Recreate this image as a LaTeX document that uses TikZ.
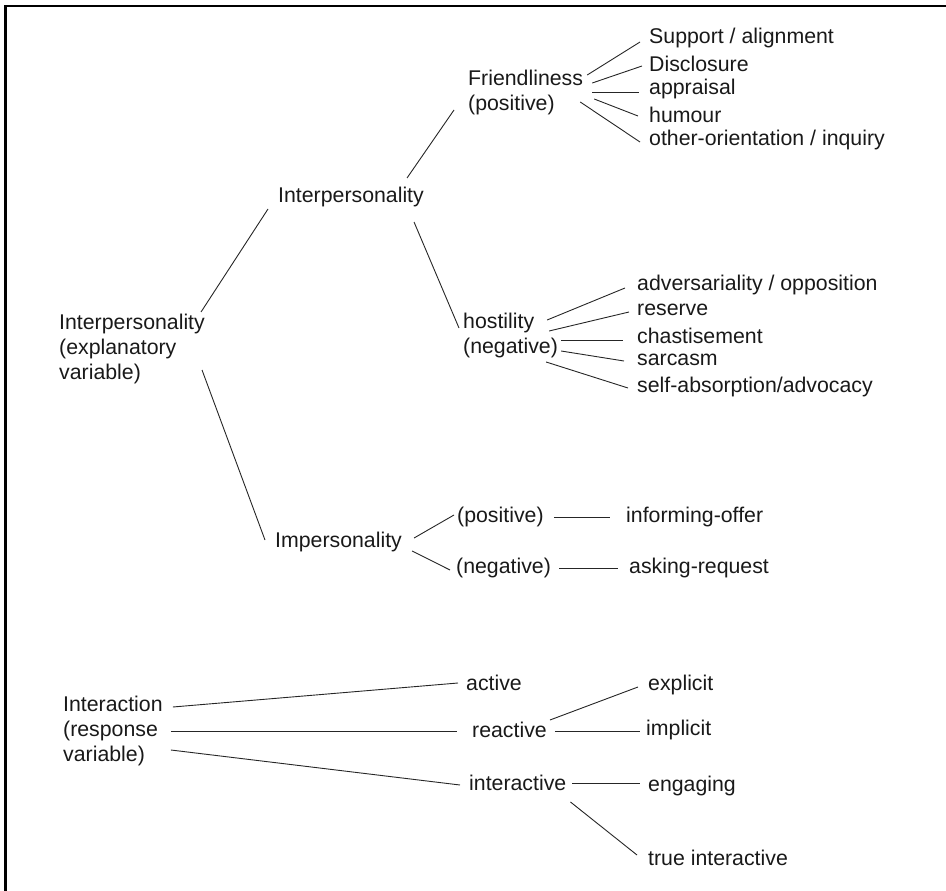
\documentclass[tikz,border=0pt]{standalone}
\usepackage{fontspec}
\setmainfont{Liberation Sans}
\begin{document}
\begin{tikzpicture}[x=1pt,y=-1pt,
  lbl/.style={inner sep=0pt, anchor=west, font=\fontsize{21.3}{25}\selectfont, text=black!90},
  blk/.style={lbl, align=left},
  conn/.style={line width=0.9pt, draw=black!85}]
\useasboundingbox (0,0) rectangle (946,891);
\draw[line width=2.5pt, line join=miter] (5.3,891) -- (5.3,6.2) -- (946,6.2);

% nodes
\node[blk] (root) at (59,349) {Interpersonality\\(explanatory\\variable)};
\node[lbl] (ip) at (278,197) {Interpersonality};
\node[blk] (fr) at (468,92) {Friendliness\\(positive)};
\node[lbl] (sup) at (649,38) {Support / alignment};
\node[lbl] (dis) at (649,63.5) {Disclosure};
\node[lbl] (app) at (649,89) {appraisal};
\node[lbl] (hum) at (649,114.5) {humour};
\node[lbl] (oth) at (649,140) {other-orientation / inquiry};
\node[blk] (hos) at (463,335.5) {hostility\\(negative)};
\node[lbl] (adv) at (637,285) {adversariality / opposition};
\node[lbl] (res) at (637,310) {reserve};
\node[lbl] (cha) at (637,336) {chastisement};
\node[lbl] (sar) at (637,360) {sarcasm};
\node[lbl] (sel) at (637,387) {self-absorption/advocacy};
\node[lbl] (imp) at (275,542) {Impersonality};
\node[lbl] (pos) at (457,517) {(positive)};
\node[lbl] (neg) at (456,568) {(negative)};
\node[lbl] (inf) at (626,517) {informing-offer};
\node[lbl] (ask) at (629,568) {asking-request};
\node[blk] (int) at (63,731) {Interaction\\(response\\variable)};
\node[lbl] (act) at (466,683) {active};
\node[lbl] (rea) at (472,730) {reactive};
\node[lbl] (ite) at (469,783) {interactive};
\node[lbl] (exp) at (648,685) {explicit};
\node[lbl] (imc) at (646,730) {implicit};
\node[lbl] (eng) at (648,786) {engaging};
\node[lbl] (tru) at (648,858) {true interactive};

% connectors
\draw[conn] ([shift={(-4,-37)}]root.east) -- ([shift={(-10,12)}]ip.west);
\draw[conn] ([shift={(-3,21)}]root.east) -- ([shift={(-10,-2)}]imp.west);
\draw[conn] ([shift={(-17,-19)}]ip.east) -- ([shift={(-14,18)}]fr.west);
\draw[conn] ([shift={(-10,25)}]ip.east) -- ([shift={(-4,-7.5)}]hos.west);

\draw[conn] ([shift={(4,-17)}]fr.east) -- ([shift={(-9,4)}]sup.west);
\draw[conn] ([shift={(9,-9)}]fr.east) -- ([shift={(-7,2.5)}]dis.west);
\draw[conn] ([shift={(9,0)}]fr.east) -- ([shift={(-10,3)}]app.west);
\draw[conn] ([shift={(11,7)}]fr.east) -- ([shift={(-11,1.5)}]hum.west);
\draw[conn] ([shift={(-3,10)}]fr.east) -- ([shift={(-9,2)}]oth.west);

\draw[conn] ([shift={(-11,-15.5)}]hos.east) -- ([shift={(-12,3)}]adv.west);
\draw[conn] ([shift={(-9,-4.5)}]hos.east) -- ([shift={(-8,2)}]res.west);
\draw[conn] ([shift={(3,4.5)}]hos.east) -- ([shift={(-14,4)}]cha.west);
\draw[conn] ([shift={(3,15.5)}]hos.east) -- ([shift={(-13,1)}]sar.west);
\draw[conn] ([shift={(-12,26.5)}]hos.east) -- ([shift={(-9,1)}]sel.west);

\draw[conn] ([shift={(12,-4)}]imp.east) -- ([shift={(-3,-2)}]pos.west);
\draw[conn] ([shift={(10,9)}]imp.east) -- ([shift={(-6,2)}]neg.west);
\draw[conn] ([shift={(10,0)}]pos.east) -- ([shift={(-16,0)}]inf.west);
\draw[conn] ([shift={(8,0)}]neg.east) -- ([shift={(-11,0)}]ask.west);

\draw[conn] ([shift={(10,-24)}]int.east) -- ([shift={(-8,0)}]act.west);
\draw[conn] ([shift={(8,0)}]int.east) -- ([shift={(-15,1)}]rea.west);
\draw[conn] ([shift={(8,19)}]int.east) -- ([shift={(-9,2)}]ite.west);
\draw[conn] ([shift={(3,-10)}]rea.east) -- ([shift={(-10,2)}]exp.west);
\draw[conn] ([shift={(8,1)}]rea.east) -- ([shift={(-6,1)}]imc.west);
\draw[conn] ([shift={(6,0)}]ite.east) -- ([shift={(-8,-3)}]eng.west);
\draw[conn] ([shift={(4,19)}]ite.east) -- ([shift={(-11,-3)}]tru.west);
\end{tikzpicture}
\end{document}
